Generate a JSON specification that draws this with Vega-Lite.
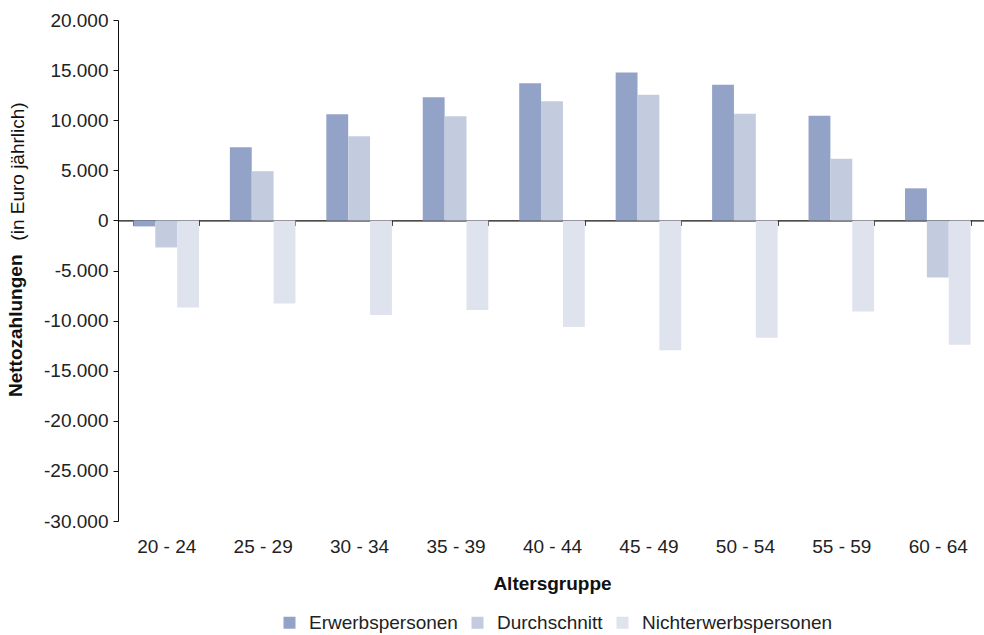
{
  "$schema": "https://vega.github.io/schema/vega-lite/v6.json",
  "width": 868,
  "height": 501,
  "autosize": "none",
  "padding": {"left": 118, "top": 20, "right": 0, "bottom": 114},
  "config": {
    "font": "Liberation Sans",
    "view": {"stroke": null},
    "locale": {
      "number": {
        "decimal": ",",
        "thousands": ".",
        "grouping": [3],
        "currency": ["", " €"],
        "minus": "-"
      }
    }
  },
  "title": {
    "text": "Nettozahlungen",
    "orient": "left",
    "anchor": "start",
    "frame": "group",
    "fontSize": 19,
    "fontWeight": "bold",
    "color": "#111111",
    "baseline": "middle",
    "dx": 124,
    "offset": -27
  },
  "data": {
    "values": [
      {"alter": "20 - 24", "gruppe": "Erwerbspersonen", "wert": -600},
      {"alter": "20 - 24", "gruppe": "Durchschnitt", "wert": -2700},
      {"alter": "20 - 24", "gruppe": "Nichterwerbspersonen", "wert": -8700},
      {"alter": "25 - 29", "gruppe": "Erwerbspersonen", "wert": 7300},
      {"alter": "25 - 29", "gruppe": "Durchschnitt", "wert": 4900},
      {"alter": "25 - 29", "gruppe": "Nichterwerbspersonen", "wert": -8300},
      {"alter": "30 - 34", "gruppe": "Erwerbspersonen", "wert": 10600},
      {"alter": "30 - 34", "gruppe": "Durchschnitt", "wert": 8400},
      {"alter": "30 - 34", "gruppe": "Nichterwerbspersonen", "wert": -9450},
      {"alter": "35 - 39", "gruppe": "Erwerbspersonen", "wert": 12300},
      {"alter": "35 - 39", "gruppe": "Durchschnitt", "wert": 10400},
      {"alter": "35 - 39", "gruppe": "Nichterwerbspersonen", "wert": -8950},
      {"alter": "40 - 44", "gruppe": "Erwerbspersonen", "wert": 13700},
      {"alter": "40 - 44", "gruppe": "Durchschnitt", "wert": 11900},
      {"alter": "40 - 44", "gruppe": "Nichterwerbspersonen", "wert": -10650},
      {"alter": "45 - 49", "gruppe": "Erwerbspersonen", "wert": 14750},
      {"alter": "45 - 49", "gruppe": "Durchschnitt", "wert": 12550},
      {"alter": "45 - 49", "gruppe": "Nichterwerbspersonen", "wert": -12950},
      {"alter": "50 - 54", "gruppe": "Erwerbspersonen", "wert": 13550},
      {"alter": "50 - 54", "gruppe": "Durchschnitt", "wert": 10650},
      {"alter": "50 - 54", "gruppe": "Nichterwerbspersonen", "wert": -11700},
      {"alter": "55 - 59", "gruppe": "Erwerbspersonen", "wert": 10450},
      {"alter": "55 - 59", "gruppe": "Durchschnitt", "wert": 6150},
      {"alter": "55 - 59", "gruppe": "Nichterwerbspersonen", "wert": -9100},
      {"alter": "60 - 64", "gruppe": "Erwerbspersonen", "wert": 3200},
      {"alter": "60 - 64", "gruppe": "Durchschnitt", "wert": -5700},
      {"alter": "60 - 64", "gruppe": "Nichterwerbspersonen", "wert": -12400}
    ]
  },
  "mark": "bar",
  "encoding": {
    "x": {
      "field": "alter",
      "type": "nominal",
      "sort": null,
      "scale": {"paddingInner": 0.32, "paddingOuter": 0.16},
      "axis": {
        "title": "Altersgruppe",
        "labelAngle": 0,
        "labelFontSize": 19,
        "labelColor": "#222222",
        "titleFontSize": 19,
        "titleFontWeight": "bold",
        "titleColor": "#111111",
        "titleY": 362.6,
        "titleBaseline": "middle",
        "domainColor": "#111111",
        "domainWidth": 1.2,
        "tickBand": "extent",
        "tickColor": "#444444",
        "tickSize": 5,
        "offset": -300.6,
        "labelPadding": 312
      }
    },
    "xOffset": {
      "field": "gruppe",
      "type": "nominal",
      "sort": ["Erwerbspersonen", "Durchschnitt", "Nichterwerbspersonen"],
      "scale": {"paddingInner": 0, "paddingOuter": 0}
    },
    "y": {
      "field": "wert",
      "type": "quantitative",
      "scale": {"domain": [-30000, 20000], "nice": false},
      "axis": {
        "title": "(in Euro jährlich)",
        "values": [-30000, -25000, -20000, -15000, -10000, -5000, 0, 5000, 10000, 15000, 20000],
        "format": ",d",
        "grid": false,
        "labelFontSize": 19,
        "labelColor": "#222222",
        "labelPadding": 5,
        "tickSize": 5,
        "tickColor": "#111111",
        "domainColor": "#111111",
        "titleFontSize": 19,
        "titleFontWeight": "normal",
        "titleColor": "#111111",
        "titleAngle": -90,
        "titleX": -101,
        "titleY": 151,
        "titleAlign": "center",
        "titleBaseline": "middle"
      }
    },
    "color": {
      "field": "gruppe",
      "type": "nominal",
      "sort": ["Erwerbspersonen", "Durchschnitt", "Nichterwerbspersonen"],
      "scale": {
        "domain": ["Erwerbspersonen", "Durchschnitt", "Nichterwerbspersonen"],
        "range": ["#93a3c8", "#c3cbdf", "#dfe3ee"]
      },
      "legend": {
        "orient": "none",
        "legendX": 162,
        "legendY": 593,
        "padding": 0,
        "direction": "horizontal",
        "title": null,
        "symbolType": "square",
        "symbolSize": 144,
        "symbolStrokeWidth": 0,
        "labelFontSize": 19,
        "labelColor": "#222222",
        "labelLimit": 400,
        "labelOffset": 10,
        "columnPadding": 10
      }
    }
  }
}
